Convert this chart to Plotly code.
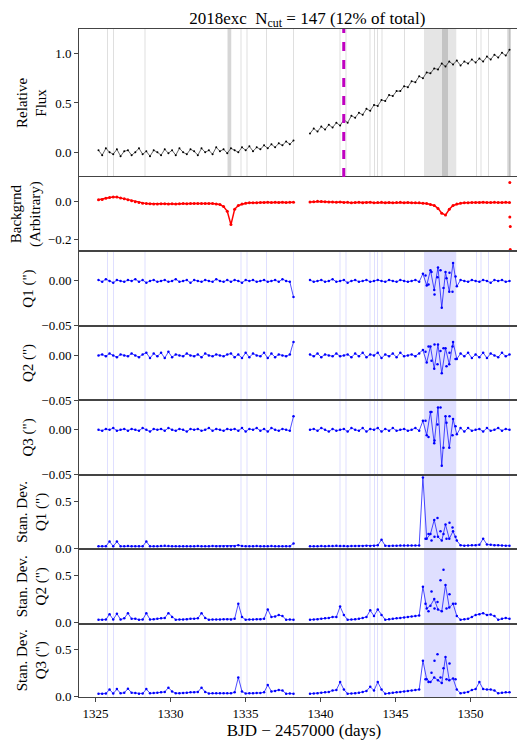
import numpy as np
import plotly.graph_objects as go
from plotly.subplots import make_subplots

t1 = np.linspace(1325.2, 1338.2, 54)
t2 = np.linspace(1339.3, 1352.6, 54)

flux1 = [0.02,-0.03,0.04,0.00,-0.02,0.03,-0.04,0.01,0.02,
 -0.03,0.00,0.04,-0.02,0.01,-0.04,0.02,0.00,-0.03,
 0.03,-0.01,0.02,-0.03,0.04,0.00,-0.02,0.03,0.01,
 -0.03,0.04,0.00,0.02,-0.02,0.05,0.01,0.03,-0.01,
 0.04,0.02,0.00,0.05,0.02,0.06,0.01,0.05,0.03,
 0.07,0.04,0.08,0.05,0.09,0.07,0.11,0.08,0.12]
flux2 = [0.19,0.24,0.21,0.26,0.23,0.28,0.25,0.30,0.27,
 0.33,0.30,0.37,0.35,0.40,0.38,0.44,0.42,0.48,
 0.47,0.53,0.52,0.58,0.57,0.62,0.62,0.67,0.66,
 0.72,0.71,0.77,0.75,0.81,0.80,0.85,0.84,0.90,
 0.87,0.92,0.89,0.93,0.88,0.92,0.90,0.94,0.91,
 0.95,0.92,0.97,0.94,0.99,0.96,1.01,0.98,1.04]
bg1 = [0.010,0.012,0.018,0.022,0.025,0.024,0.020,0.015,0.010,
 0.005,0.000,-0.004,-0.008,-0.010,-0.011,-0.012,-0.012,-0.011,
 -0.011,-0.012,-0.011,-0.012,-0.011,-0.010,-0.011,-0.010,-0.010,
 -0.010,-0.009,-0.010,-0.009,-0.010,-0.012,-0.015,-0.025,-0.050,
 -0.120,-0.040,-0.020,-0.012,-0.008,-0.006,-0.005,-0.005,-0.004,
 -0.004,-0.003,-0.004,-0.003,-0.004,-0.003,-0.004,-0.003,-0.003]
bg2 = [-0.002,0.000,0.002,0.001,0.000,-0.002,-0.001,-0.003,-0.002,
 -0.004,-0.003,-0.005,-0.004,-0.003,-0.005,-0.004,-0.003,-0.005,
 -0.004,-0.003,-0.005,-0.004,-0.005,-0.004,-0.003,-0.005,-0.004,
 -0.005,-0.006,-0.006,-0.008,-0.010,-0.015,-0.020,-0.035,-0.060,
 -0.070,-0.040,-0.020,-0.012,-0.008,-0.006,-0.005,-0.004,-0.004,
 -0.004,-0.003,-0.004,-0.004,-0.003,-0.004,-0.004,-0.003,-0.004]
bg_out_t = [1352.62, 1352.62, 1352.65, 1352.65]
bg_out_v = [0.10, -0.08, -0.13, -0.25]

q1_1 = [0.001,-0.001,0.002,0.000,-0.002,0.001,0.000,-0.001,0.001,
 0.000,0.002,-0.001,0.001,-0.002,0.000,0.001,-0.001,0.000,
 0.001,-0.001,0.000,0.002,-0.001,0.000,0.001,-0.002,0.001,
 0.000,-0.001,0.001,0.000,-0.001,0.002,0.000,-0.001,0.001,
 -0.001,0.001,0.000,-0.002,0.001,0.000,0.001,-0.001,0.000,
 0.001,-0.001,0.000,0.001,-0.001,0.002,0.000,-0.001,-0.018]
q1_2 = [0.001,-0.001,0.000,0.001,-0.001,0.000,0.002,-0.001,0.000,
 0.001,-0.002,0.000,0.001,-0.001,0.000,0.001,-0.001,0.000,
 0.001,0.000,-0.001,0.001,0.000,-0.001,0.001,0.000,-0.001,
 0.000,0.001,-0.001,0.008,-0.005,0.012,-0.010,0.015,-0.030,
 0.010,-0.012,0.020,-0.006,0.001,0.000,-0.001,0.001,0.000,
 -0.001,0.001,0.000,-0.002,0.001,0.000,0.001,-0.001,0.000]
q2_1 = [0.000,0.001,-0.001,0.002,0.000,-0.002,0.001,0.000,-0.001,
 0.002,0.000,-0.002,0.001,0.003,-0.003,0.002,-0.001,0.003,
 -0.003,0.004,-0.002,0.001,0.000,-0.001,0.002,0.000,-0.001,
 0.001,-0.002,0.002,0.000,-0.001,0.001,0.000,-0.001,0.001,
 0.002,-0.002,0.001,-0.003,0.003,-0.002,0.002,0.000,-0.001,
 0.003,-0.003,0.002,-0.002,0.001,0.000,-0.001,0.001,0.015]
q2_2 = [0.001,-0.001,0.002,-0.002,0.001,0.000,-0.001,0.002,-0.001,
 0.000,0.001,-0.002,0.002,-0.001,0.003,-0.002,0.001,0.000,
 0.003,-0.003,0.001,-0.001,0.002,-0.002,0.003,-0.001,0.000,
 0.001,-0.001,0.002,0.006,-0.008,0.010,-0.015,0.012,-0.020,
 0.008,-0.010,0.015,-0.004,0.002,-0.001,0.003,-0.003,0.001,
 -0.002,0.003,-0.003,0.002,0.000,-0.002,0.003,-0.001,0.001]
q3_1 = [0.000,-0.001,0.001,0.000,0.002,-0.001,0.000,0.001,-0.001,
 0.001,0.000,-0.001,0.002,0.000,-0.002,0.001,0.000,0.001,
 -0.001,0.002,0.000,-0.001,0.001,0.000,-0.002,0.001,0.000,
 0.001,-0.001,0.000,0.002,-0.001,0.001,0.000,-0.001,0.001,
 0.000,0.001,-0.001,0.002,-0.002,0.001,0.000,0.002,-0.001,
 0.001,-0.002,0.002,0.000,-0.001,0.001,0.000,-0.001,0.015]
q3_2 = [0.000,0.001,-0.001,0.002,0.000,-0.002,0.001,-0.001,0.000,
 0.001,-0.002,0.002,0.000,-0.001,0.002,-0.002,0.001,0.000,
 0.002,-0.002,0.001,-0.001,0.002,-0.001,0.000,0.001,-0.001,
 0.000,0.002,-0.001,0.010,-0.006,0.020,-0.015,0.025,-0.040,
 0.015,-0.020,0.012,-0.005,0.002,-0.002,0.002,-0.001,0.000,
 0.001,-0.002,0.002,-0.001,0.000,0.002,-0.001,0.001,0.000]

sd1_1 = [0.020,0.020,0.021,0.070,0.020,0.070,0.021,0.020,0.022,
 0.021,0.020,0.021,0.020,0.070,0.020,0.021,0.020,0.022,
 0.025,0.022,0.021,0.020,0.021,0.020,0.021,0.020,0.021,
 0.022,0.021,0.020,0.021,0.022,0.020,0.021,0.020,0.020,
 0.020,0.021,0.030,0.022,0.021,0.020,0.021,0.022,0.020,
 0.021,0.020,0.022,0.021,0.020,0.021,0.020,0.021,0.050]
sd1_2 = [0.020,0.021,0.020,0.022,0.021,0.023,0.022,0.025,0.023,
 0.022,0.021,0.022,0.023,0.024,0.022,0.025,0.024,0.026,
 0.030,0.090,0.025,0.024,0.025,0.026,0.027,0.028,0.027,
 0.028,0.029,0.028,0.750,0.100,0.150,0.300,0.120,0.080,
 0.250,0.100,0.180,0.080,0.030,0.025,0.028,0.030,0.032,
 0.035,0.100,0.040,0.035,0.032,0.030,0.028,0.026,0.025]
sd2_1 = [0.030,0.030,0.032,0.090,0.032,0.095,0.033,0.045,0.100,
 0.040,0.042,0.030,0.032,0.100,0.034,0.036,0.040,0.045,
 0.050,0.100,0.060,0.030,0.032,0.034,0.036,0.040,0.042,
 0.045,0.100,0.050,0.030,0.032,0.034,0.033,0.035,0.036,
 0.034,0.040,0.200,0.060,0.030,0.032,0.033,0.035,0.036,
 0.040,0.140,0.060,0.065,0.080,0.070,0.030,0.032,0.030]
sd2_2 = [0.030,0.032,0.035,0.040,0.045,0.050,0.060,0.060,0.170,
 0.080,0.030,0.032,0.035,0.040,0.050,0.060,0.130,0.070,
 0.140,0.080,0.030,0.035,0.040,0.045,0.050,0.055,0.060,
 0.065,0.070,0.075,0.380,0.150,0.180,0.250,0.140,0.120,
 0.400,0.160,0.200,0.070,0.030,0.035,0.040,0.060,0.080,
 0.090,0.100,0.080,0.085,0.070,0.030,0.040,0.050,0.040]
sd3_1 = [0.025,0.025,0.027,0.070,0.027,0.075,0.030,0.035,0.080,
 0.035,0.033,0.025,0.027,0.075,0.030,0.032,0.035,0.040,
 0.045,0.090,0.050,0.030,0.030,0.032,0.035,0.040,0.042,
 0.045,0.090,0.045,0.028,0.030,0.030,0.029,0.031,0.030,
 0.030,0.040,0.200,0.050,0.028,0.030,0.030,0.032,0.034,
 0.040,0.120,0.050,0.055,0.065,0.060,0.025,0.027,0.025]
sd3_2 = [0.025,0.027,0.030,0.035,0.040,0.045,0.060,0.065,0.150,
 0.070,0.025,0.028,0.030,0.035,0.045,0.055,0.100,0.060,
 0.150,0.070,0.025,0.030,0.035,0.040,0.045,0.050,0.055,
 0.060,0.065,0.070,0.380,0.180,0.150,0.200,0.170,0.140,
 0.420,0.170,0.190,0.070,0.030,0.035,0.045,0.065,0.075,
 0.150,0.075,0.070,0.070,0.060,0.030,0.035,0.040,0.040]

evt_t = [1347.0,1347.2,1347.4,1347.6,1347.8,1348.0,1348.2,1348.4,1348.6,1348.8,1349.0]
q1_evt = [0.006,-0.004,0.010,-0.015,0.004,0.012,-0.008,0.003,0.009,-0.012,0.005]
q2_evt = [0.004,0.010,-0.006,0.012,-0.010,0.005,0.008,-0.012,0.003,0.010,-0.004]
q3_evt = [0.010,-0.008,0.020,-0.012,0.006,0.025,-0.020,0.008,0.015,-0.006,0.004]
sd1_evt = [0.10,0.15,0.08,0.12,0.32,0.18,0.15,0.10,0.27,0.22,0.12]
sd2_evt = [0.20,0.12,0.33,0.15,0.22,0.45,0.56,0.15,0.30,0.82,0.20]
sd3_evt = [0.18,0.15,0.25,0.38,0.45,0.20,0.30,0.18,0.35,0.90,0.18]

flag_t = [1325.8,1326.2,1328.3,1334.7,1335.1,1336.4,1338.2,1341.3,1341.7,
          1343.3,1343.6,1343.8,1344.1,1345.6,1350.4,1350.7,1351.2,1352.6]
event_band = (1346.9, 1349.05)
grey_dark = [(1333.8, 1334.05), (1348.1, 1348.5), (1352.45, 1352.7)]
red_bands = [(1333.8, 1334.05), (1348.1, 1348.4), (1352.5, 1352.65)]
transit_t = 1341.55

ylabels = ["Relative<br>Flux", "Backgrnd<br>(Arbitrary)", "Q1 (\")", "Q2 (\")", "Q3 (\")",
           "Stan. Dev.<br>Q1 (\")", "Stan. Dev.<br>Q2 (\")", "Stan. Dev.<br>Q3 (\")"]

fig = make_subplots(rows=8, cols=1, shared_xaxes=True, vertical_spacing=0,
                    row_heights=[149, 75, 75, 75, 75, 75, 75, 74])

def seg(a, b):
    return list(t1) + [None] + list(t2), list(a) + [None] + list(b)

x, y = seg(flux1, flux2)
fig.add_trace(go.Scatter(x=x, y=y, mode="lines+markers", line=dict(color="black", width=0.6),
                         marker=dict(color="black", size=2)), row=1, col=1)
x, y = seg(bg1, bg2)
fig.add_trace(go.Scatter(x=x, y=y, mode="lines+markers", line=dict(color="red", width=1.5),
                         marker=dict(color="red", size=3)), row=2, col=1)
fig.add_trace(go.Scatter(x=bg_out_t, y=bg_out_v, mode="markers", marker=dict(color="red", size=3)), row=2, col=1)

rows = [(q1_1, q1_2, q1_evt), (q2_1, q2_2, q2_evt), (q3_1, q3_2, q3_evt),
        (sd1_1, sd1_2, sd1_evt), (sd2_1, sd2_2, sd2_evt), (sd3_1, sd3_2, sd3_evt)]
for i, (a, b, e) in enumerate(rows):
    x, y = seg(a, b)
    fig.add_trace(go.Scatter(x=x, y=y, mode="lines+markers", line=dict(color="blue", width=0.7),
                             marker=dict(color="blue", size=2.5)), row=3 + i, col=1)
    fig.add_trace(go.Scatter(x=evt_t, y=e, mode="markers", marker=dict(color="blue", size=2.5)), row=3 + i, col=1)

for r in range(1, 9):
    if r == 1:
        for xx in flag_t:
            fig.add_vline(x=xx, line=dict(color="rgba(150,150,150,0.3)", width=1), row=r, col=1, layer="below")
        fig.add_vrect(x0=event_band[0], x1=event_band[1], fillcolor="rgba(150,150,150,0.25)", line_width=0, row=r, col=1, layer="below")
        for a, b in grey_dark:
            fig.add_vrect(x0=a, x1=b, fillcolor="rgba(120,120,120,0.3)", line_width=0, row=r, col=1, layer="below")
    elif r == 2:
        for a, b in red_bands:
            fig.add_vrect(x0=a, x1=b, fillcolor="rgba(255,150,150,0.4)", line_width=0, row=r, col=1, layer="below")
    else:
        for xx in flag_t:
            fig.add_vline(x=xx, line=dict(color="rgba(150,150,255,0.3)", width=1), row=r, col=1, layer="below")
        fig.add_vrect(x0=event_band[0], x1=event_band[1], fillcolor="rgba(110,110,255,0.22)", line_width=0, row=r, col=1, layer="below")

fig.add_vline(x=transit_t, line=dict(color="#c000c0", width=3, dash="dash"), row=1, col=1)

ranges = [[-0.25, 1.25], [-0.26, 0.13], [-0.05, 0.033], [-0.05, 0.033], [-0.05, 0.033],
          [-0.01, 0.78], [-0.01, 0.78], [-0.01, 0.78]]
tvals = [[0, 0.5, 1.0], [-0.2, 0.0], [-0.05, 0.0], [-0.05, 0.0], [-0.05, 0.0],
         [0.0, 0.5], [0.0, 0.5], [0.0, 0.5]]
ttext = [["0.0", "0.5", "1.0"], ["−0.2", "0.0"], ["−0.05", "0.00"], ["−0.05", "0.00"], ["−0.05", "0.00"],
         ["0.0", "0.5"], ["0.0", "0.5"], ["0.0", "0.5"]]
for r in range(1, 9):
    fig.update_yaxes(range=ranges[r - 1], tickvals=tvals[r - 1], ticktext=ttext[r - 1],
                     title=dict(text=ylabels[r - 1], standoff=4, font=dict(size=15)),
                     row=r, col=1)
fig.update_yaxes(showline=True, mirror=True, linecolor="#444", linewidth=1, ticks="outside",
                 ticklen=4, showgrid=False, zeroline=False, tickfont=dict(size=13))
fig.update_xaxes(range=[1323.9, 1353.9], showline=True, mirror=True, linecolor="#444", linewidth=1,
                 showgrid=False, zeroline=False, tickvals=[1325, 1330, 1335, 1340, 1345, 1350],
                 tickfont=dict(size=13))
fig.update_xaxes(ticks="outside", ticklen=4, row=8, col=1)
fig.update_xaxes(title=dict(text="BJD − 2457000 (days)", font=dict(size=17), standoff=0), row=8, col=1)

fig.update_layout(width=525, height=741, showlegend=False, plot_bgcolor="white", paper_bgcolor="white",
                  font=dict(family="Liberation Serif", color="black"),
                  margin=dict(l=71, r=4, t=21, b=52),
                  title=dict(text="2018exc  N<sub>cut</sub> = 147 (12% of total)", x=0.57, xanchor="center",
                             y=0.995, yanchor="top", font=dict(size=17)))
fig.write_html("out.html")
